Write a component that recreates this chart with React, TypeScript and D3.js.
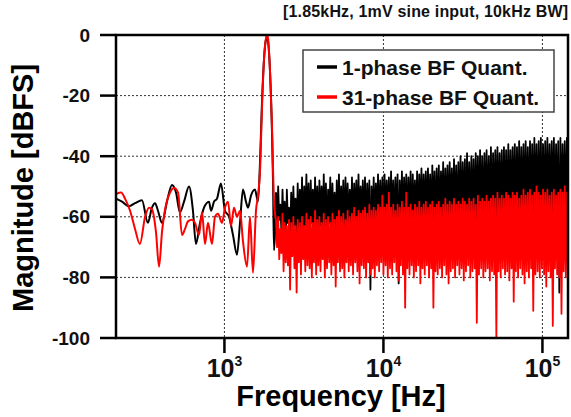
import React from 'react';
import * as d3 from 'd3';

const W = 571;
const H = 417;
const PLOT = { left: 116, right: 568, top: 35, bottom: 338 };

const xDomainHz = [208, 144800];
const yDomainDb = [-100, 0];
const yTicks = [0, -20, -40, -60, -80, -100];
const yGrid = [-20, -40, -60, -80];
const xTicks = [1e3, 1e4, 1e5];
const xTickBase = '10';
const xTickExponents = ['3', '4', '5'];

const titleText = '[1.85kHz, 1mV sine input, 10kHz BW]';
const xLabel = 'Frequency [Hz]';
const yLabel = 'Magnitude [dBFS]';
const seriesNames = ['1-phase BF Quant.', '31-phase BF Quant.'];
const seriesColors = ['#000000', '#ff0000'];

// Low-frequency part (resolved peaks), 1-phase
const blackLowHz = [208, 227, 251, 274, 303, 330, 350, 366, 382, 405, 435, 468, 496, 525, 557, 599, 634, 662, 702, 744, 800, 823, 860, 898, 951, 1008, 1069, 1132, 1199, 1253, 1308, 1366, 1406, 1469, 1556, 1626, 1674, 1723, 1774, 1826, 1853, 1879, 1935, 1991, 2021, 2050];
const blackLowDb = [-54, -55, -56.5, -55.5, -54.5, -62, -57, -55.5, -58, -62, -55, -49.5, -52, -58.5, -55, -50, -58, -69, -62, -57, -55, -58, -55, -54, -49, -58, -60, -66, -72.5, -62, -51, -55, -57, -53, -51, -55, -42, -22, -8, -1.5, -1, -2, -12, -32, -48, -71];

// Low-frequency part, 31-phase
const redLowHz = [208, 224, 237, 255, 274, 294, 317, 336, 350, 371, 388, 405, 429, 455, 482, 511, 541, 565, 590, 625, 653, 692, 723, 755, 788, 835, 872, 911, 965, 1008, 1053, 1100, 1148, 1199, 1253, 1308, 1387, 1448, 1512, 1579, 1626, 1674, 1723, 1774, 1826, 1853, 1879, 1935, 1991, 2050];
const redLowDb = [-52.5, -52, -54, -58, -64, -69, -60, -57, -57.5, -65, -76.5, -65, -56, -52, -50.5, -52, -66, -64, -61.5, -61, -62, -66, -58.5, -69, -62, -69, -60, -59, -62, -57, -55, -63, -57, -60, -58, -68, -76.5, -60, -78.5, -58, -53, -45, -24, -8, -1, 0, -1, -12, -30, -55];

// Dense noise floor above ~2.1 kHz (values read left to right across the band)
const highBandHz = [2110, 144800];
const blackHighDb = [
  -52, -66, -50, -61, -56, -65, -51, -63, -55, -70,
  -51, -62, -57, -68, -52, -64, -50, -63, -54, -67,
  -49, -66, -51, -64, -47, -69, -50, -63, -46, -65,
  -49, -67, -48, -62, -51, -66, -47, -64, -50, -68,
  -48, -63, -50, -66, -46, -64, -49, -69, -51, -62,
  -47, -65, -49, -63, -52, -67, -48, -64, -46, -66,
  -50, -62, -48, -68, -47, -63, -49, -65, -51, -64,
  -47, -67, -49, -62, -48, -66, -46, -64, -50, -63,
  -48, -65, -47, -69, -49, -63, -48, -84, -50, -64,
  -47, -66, -49, -62, -46, -65, -48, -63, -47, -67,
  -46, -64, -48, -62, -47, -66, -45, -63, -48, -65,
  -47, -63, -46, -82, -48, -64, -45, -66, -47, -62,
  -46, -65, -47, -63, -45, -67, -46, -62, -48, -64,
  -45, -66, -46, -63, -44, -65, -46, -62, -45, -64,
  -44, -63, -46, -66, -43, -62, -45, -65, -44, -63,
  -43, -64, -45, -62, -42, -66, -44, -63, -43, -65,
  -42, -62, -44, -64, -41, -63, -43, -66, -42, -62,
  -40, -64, -42, -63, -41, -65, -39, -62, -42, -64,
  -40, -63, -41, -65, -39, -62, -40, -64, -38, -63,
  -40, -65, -39, -62, -38, -64, -40, -63, -37, -66,
  -39, -62, -38, -64, -37, -63, -39, -61, -38, -65,
  -37, -62, -38, -64, -36, -63, -38, -61, -37, -64,
  -36, -63, -37, -62, -35, -65, -37, -61, -36, -63,
  -35, -62, -37, -64, -35, -61, -36, -63, -34, -62,
  -36, -64, -35, -62, -34, -63, -36, -61, -35, -64,
  -34, -62, -36, -63, -35, -61, -34, -64, -36, -62,
  -35, -85, -34, -63, -36, -62, -35, -64, -34, -61,
];
const redHighDb = [
  -61, -70, -60, -74, -64, -72, -59, -78, -62, -75,
  -63, -76, -61, -84, -62, -73, -60, -77, -63, -85,
  -61, -75, -62, -79, -60, -74, -63, -78, -59, -76,
  -61, -77, -60, -80, -62, -75, -58, -79, -61, -76,
  -60, -78, -62, -74, -59, -80, -61, -77, -60, -75,
  -62, -79, -59, -76, -61, -83, -60, -75, -58, -78,
  -60, -77, -59, -80, -61, -75, -58, -78, -60, -76,
  -59, -79, -57, -75, -60, -78, -58, -82, -59, -76,
  -58, -77, -57, -80, -59, -75, -56, -79, -58, -77,
  -57, -80, -58, -76, -56, -78, -57, -75, -53, -79,
  -57, -76, -56, -80, -52, -77, -57, -79, -56, -75,
  -58, -78, -56, -81, -57, -76, -55, -79, -57, -90,
  -52, -77, -57, -79, -56, -76, -58, -80, -56, -78,
  -57, -76, -55, -82, -57, -77, -56, -79, -55, -76,
  -57, -80, -56, -77, -55, -90, -57, -78, -56, -79,
  -55, -77, -57, -80, -56, -76, -54, -79, -56, -82,
  -55, -78, -56, -77, -54, -80, -56, -76, -55, -79,
  -56, -77, -54, -81, -55, -78, -56, -76, -54, -80,
  -55, -78, -54, -77, -56, -95, -53, -79, -55, -77,
  -54, -80, -55, -78, -53, -77, -55, -81, -54, -78,
  -53, -79, -54, -100, -52, -78, -54, -80, -53, -77,
  -54, -79, -52, -78, -53, -81, -54, -77, -52, -88,
  -53, -78, -52, -80, -54, -77, -53, -79, -51, -82,
  -53, -78, -52, -80, -51, -77, -53, -91, -52, -79,
  -50, -78, -52, -80, -53, -77, -51, -79, -52, -83,
  -51, -78, -53, -80, -52, -96, -51, -77, -53, -79,
  -52, -80, -51, -92, -52, -78, -50, -80, -52, -79,
];

type Pt = [number, number];

const x = d3.scaleLog().domain(xDomainHz).range([PLOT.left, PLOT.right]);
const y = d3.scaleLinear().domain(yDomainDb).range([PLOT.bottom, PLOT.top]);

// place band values evenly across the band on the log axis
function bandPoints(vals: number[]): Pt[] {
  const lx = d3.scaleLinear().domain([0, vals.length - 1]).range([Math.log10(highBandHz[0]), Math.log10(highBandHz[1])]);
  return vals.map((v, i) => [Math.pow(10, lx(i)), v]);
}
function zip(hz: number[], db: number[]): Pt[] {
  return hz.map((f, i) => [f, db[i]]);
}

const smoothLine = d3.line<Pt>().x(d => x(d[0])).y(d => y(d[1])).curve(d3.curveMonotoneX);
const rawLine = d3.line<Pt>().x(d => x(d[0])).y(d => y(d[1]));

const blackLow = zip(blackLowHz, blackLowDb);
const redLow = zip(redLowHz, redLowDb);
const blackHigh = bandPoints(blackHighDb);
const redHigh = bandPoints(redHighDb);

const FONT = 'Liberation Sans, Arial, sans-serif';

export default function App() {
  const series = [
    { low: blackLow, high: blackHigh, color: seriesColors[0] },
    { low: redLow, high: redHigh, color: seriesColors[1] },
  ];
  return (
    <svg width={W} height={H} style={{ position: 'absolute', left: 0, top: 0, background: '#fff' }} fontFamily={FONT}>
      <defs>
        <clipPath id="plotClip">
          <rect x={PLOT.left} y={PLOT.top} width={PLOT.right - PLOT.left} height={PLOT.bottom - PLOT.top} />
        </clipPath>
      </defs>
      <rect x={0} y={0} width={W} height={H} fill="#fff" />
      {/* grid */}
      {yGrid.map(v => (
        <line key={'gy' + v} x1={PLOT.left} x2={PLOT.right} y1={y(v)} y2={y(v)} stroke="#333" strokeWidth={1} strokeDasharray="2,2" />
      ))}
      {xTicks.map(v => (
        <line key={'gx' + v} x1={x(v)} x2={x(v)} y1={PLOT.top} y2={PLOT.bottom} stroke="#333" strokeWidth={1} strokeDasharray="2,2" />
      ))}
      {/* data */}
      <g clipPath="url(#plotClip)" fill="none" strokeLinejoin="round">
        {series.map((s, i) => (
          <g key={i} stroke={s.color}>
            <path d={smoothLine([...s.low, s.high[0]]) || ''} strokeWidth={2} />
            <path d={rawLine(s.high) || ''} strokeWidth={1.8} />
          </g>
        ))}
      </g>
      {/* frame */}
      <rect x={PLOT.left} y={PLOT.top} width={PLOT.right - PLOT.left} height={PLOT.bottom - PLOT.top} fill="none" stroke="#000" strokeWidth={2.5} />
      {/* y ticks */}
      {yTicks.map(v => (
        <g key={'yt' + v}>
          <line x1={PLOT.left - 16} x2={PLOT.left} y1={y(v)} y2={y(v)} stroke="#000" strokeWidth={2.5} />
          <text x={PLOT.left - 26} y={y(v)} dy="0.35em" textAnchor="end" fontSize={19} fontWeight="bold" fill="#111">{v}</text>
        </g>
      ))}
      {/* x ticks */}
      {xTicks.map((v, i) => (
        <g key={'xt' + v}>
          <line x1={x(v)} x2={x(v)} y1={PLOT.bottom} y2={PLOT.bottom + 15} stroke="#000" strokeWidth={2.5} />
          <text x={x(v)} y={377} textAnchor="middle" fontSize={25} fontWeight="bold" fill="#111">
            {xTickBase}
            <tspan fontSize={14} dy={-11}>{xTickExponents[i]}</tspan>
          </text>
        </g>
      ))}
      {/* axis labels */}
      <text x={341} y={406} textAnchor="middle" fontSize={29} fontWeight="bold" fill="#000">{xLabel}</text>
      <text transform={`translate(33, 188) rotate(-90)`} textAnchor="middle" fontSize={29} fontWeight="bold" fill="#000">{yLabel}</text>
      {/* title */}
      <text x={568} y={17} textAnchor="end" fontSize={16} fontWeight="bold" fill="#111" textLength={285} lengthAdjust="spacing">{titleText}</text>
      {/* legend */}
      <rect x={303} y={50} width={251} height={62} fill="#fff" stroke="#444" strokeWidth={1.5} />
      {seriesNames.map((n, i) => (
        <g key={n}>
          <line x1={317} x2={337} y1={67 + i * 30} y2={67 + i * 30} stroke={seriesColors[i]} strokeWidth={3.5} />
          <text x={342} y={67 + i * 30} dy="0.36em" fontSize={21} fontWeight="bold" fill="#111">{n}</text>
        </g>
      ))}
    </svg>
  );
}
